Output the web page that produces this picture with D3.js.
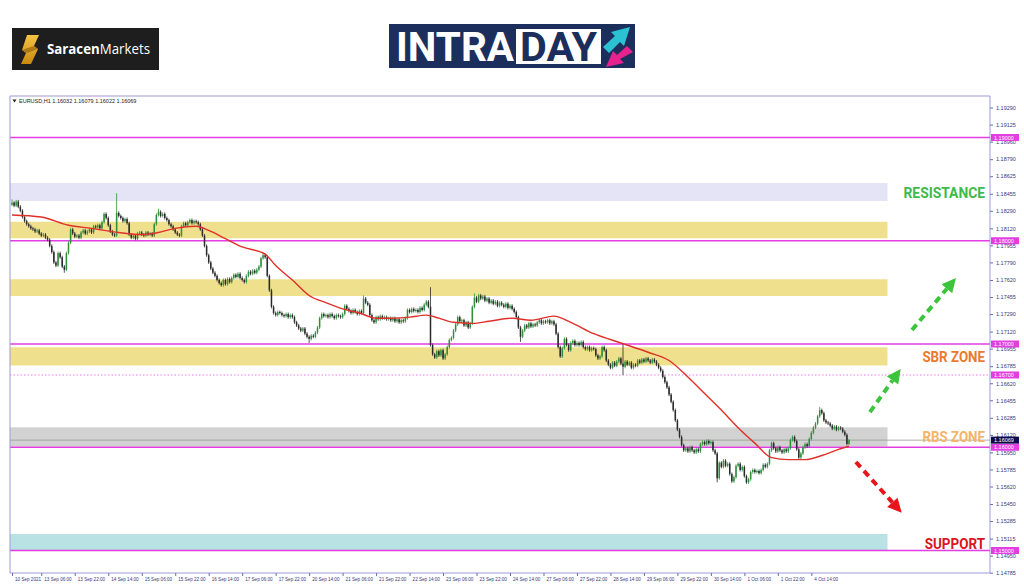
<!DOCTYPE html>
<html>
<head>
<meta charset="utf-8">
<script src="https://cdn.jsdelivr.net/npm/d3@7"></script>
<style>
  body { margin: 0; background: #fff; }
  svg { display: block; }
</style>
</head>
<body>
<div id="chart"></div>
<script>
// EURUSD H1 closes, in pips above 1.1000 (one per bar)
const firstOpen = 835;
const closes = [
  837, 834, 838, 833, 829, 823, 819, 816, 814, 812,
  811, 809, 810, 807, 805, 806, 803, 801, 795, 789,
  779, 776, 788, 784, 775, 772, 788, 798, 811, 807,
  804, 805, 803, 808, 810, 807, 809, 811, 808, 814,
  813, 815, 812, 818, 826, 822, 815, 809, 806, 805,
  827, 824, 822, 819, 821, 817, 806, 803, 805, 802,
  807, 808, 806, 805, 808, 806, 807, 805, 816, 825,
  828, 824, 826, 822, 820, 816, 814, 811, 808, 806,
  805, 814, 817, 815, 818, 820, 817, 819, 818, 816,
  811, 805, 795, 786, 779, 773, 769, 766, 762, 759,
  757, 762, 758, 763, 760, 764, 767, 765, 768, 764,
  762, 760, 766, 770, 768, 771, 769, 772, 775, 783,
  786, 784, 766, 752, 736, 730, 728, 731, 730, 728,
  727, 729, 726, 728, 726, 721, 718, 715, 713, 715,
  710, 707, 705, 708, 707, 711, 716, 725, 729, 727,
  728, 726, 729, 727, 725, 728, 727, 726, 729, 737,
  734, 732, 730, 733, 731, 729, 732, 730, 744, 740,
  738, 728, 723, 721, 726, 724, 727, 725, 726, 724,
  725, 723, 725, 722, 724, 721, 723, 722, 725, 733,
  731, 734, 732, 733, 731, 735, 733, 738, 741, 736,
  699, 690, 687, 693, 689, 694, 686, 690, 697, 704,
  706, 713, 719, 726, 722, 723, 718, 721, 716, 720,
  736, 745, 741, 747, 744, 746, 742, 744, 740, 742,
  739, 741, 737, 740, 738, 736, 739, 735, 737, 734,
  731, 726, 716, 707, 713, 718, 716, 720, 717, 719,
  718, 721, 723, 720, 722, 721, 723, 720, 722, 719,
  710, 697, 688, 696, 705, 699, 694, 701, 703, 699,
  701, 699, 702, 697, 695, 697, 694, 696, 695, 689,
  686, 688, 697, 694, 684, 680, 677, 682, 679, 683,
  686, 681, 678, 683, 680, 682, 677, 680, 679, 684,
  682, 685, 683, 686, 684, 682, 685, 683, 680, 677,
  674, 668, 663, 658, 651, 644, 636, 626, 617, 610,
  602, 597, 599, 596, 600, 597, 595, 598, 596, 603,
  605, 603, 606, 604, 605, 597, 594, 570, 585, 581,
  587, 582, 584, 574, 567, 571, 582, 584, 578, 581,
  572, 566, 569, 576, 578, 576, 577, 575, 578, 583,
  581, 584, 597, 604, 599, 596, 600, 597, 595, 598,
  596, 599, 607, 610, 606, 598, 590, 594, 600, 603,
  601, 608, 614, 619, 623, 630, 636, 633, 626, 624,
  623, 621, 618, 620, 617, 619, 618, 615, 612, 603.2,
  606.9
];

// bars with long wicks: [bar, high, low] in pips above 1.1000
const spikes = [
  [0, 840, null], [25, null, 769], [50, 846, null], [70, 831, null],
  [142, null, 701], [168, 747, null], [200, 755, null], [221, 749, null],
  [243, null, 702], [292, 701, 670], [337, null, 566], [386, 639, null],
  [400, 607.9, 602.2]
];

// moving average, read at a few bars
const maBars   = [0, 14, 27, 38, 51, 62, 70, 78, 88, 94, 102, 110, 121, 126, 134, 142, 150, 158, 166, 174, 182, 190, 198, 204, 211, 220, 228, 239, 248, 259, 267, 278, 291, 304, 314, 323, 331, 339, 347, 355, 363, 371, 379, 387, 395, 400];
const maValues = [825, 823, 815, 812, 808, 806, 808, 812, 814, 810, 802, 794, 787, 776, 762, 747, 740, 734, 730, 725, 725, 726, 728, 725, 721, 720, 722, 725, 723, 727, 721, 710, 701, 692, 684, 668, 652, 636, 619, 604, 590, 588, 588, 592, 598, 601];

const yTicks = [1.19290, 1.19125, 1.18960, 1.18790, 1.18625, 1.18455, 1.18290, 1.18120, 1.17955, 1.17790,
  1.17620, 1.17455, 1.17290, 1.17120, 1.16955, 1.16785, 1.16620, 1.16455, 1.16285, 1.16120,
  1.15950, 1.15785, 1.15620, 1.15450, 1.15285, 1.15115, 1.14950, 1.14785];

const xTickBars = [0, 14, 30, 46, 62, 78, 94, 110, 126, 142, 158, 174, 190, 206, 222, 238, 254, 270, 286, 302, 318, 334, 350, 366, 382];
const xTickLabels = ["10 Sep 2021", "13 Sep 06:00", "13 Sep 22:00", "14 Sep 14:00", "15 Sep 06:00", "15 Sep 22:00",
  "16 Sep 14:00", "17 Sep 06:00", "17 Sep 22:00", "20 Sep 14:00", "21 Sep 06:00", "21 Sep 22:00", "22 Sep 14:00",
  "23 Sep 06:00", "23 Sep 22:00", "24 Sep 14:00", "27 Sep 06:00", "27 Sep 22:00", "28 Sep 14:00", "29 Sep 06:00",
  "29 Sep 22:00", "30 Sep 14:00", "1 Oct 06:00", "1 Oct 22:00", "4 Oct 14:00"];

// zones [low, high]
const zoneBands = [[1.18385, 1.18559], [1.18024, 1.18184], [1.17465, 1.17627], [1.16792, 1.16968], [1.16007, 1.16193], [1.15005, 1.15160]];
const zoneColors = ["#e4e4f6", "#efe08e", "#efe08e", "#efe08e", "#d2d2d2", "#b9e2e4"];
const zoneEndBar = 418.4;

const levels = [1.19, 1.18, 1.17, 1.16, 1.15];
const dottedLevel = 1.167;
const lastPrice = 1.16069;
const header = "EURUSD,H1  1.16032 1.16079 1.16022 1.16069";

const zoneLabels = ["RESISTANCE", "SBR ZONE", "RBS ZONE", "SUPPORT"];
const zoneLabelColors = ["#3dbb4a", "#eb7a30", "#f5b36b", "#d8151f"];
const zoneLabelPrices = [1.1847, 1.1688, 1.1610, 1.1507];

// arrows [bar1, price1, bar2, price2]
const arrows = [[430.1, 1.17136, 451.1, 1.17639], [410.0, 1.16341, 424.7, 1.16758], [403.3, 1.15857, 425.2, 1.15366]];
const arrowColors = ["#3cc43c", "#3cc43c", "#e8141c"];

const W = 1024, H = 587;
const plotL = 10, plotR = 990, plotT = 96, plotB = 573;

const svg = d3.select("#chart").append("svg").attr("width", W).attr("height", H);

const x = d3.scaleLinear().domain([0, 400]).range([12, 849]);
const y = d3.scaleLinear().domain([1.15, 1.19]).range([550.5, 137.5]);
const pip = v => 1.1 + v / 10000;

// ---- logos ----
const logo1 = svg.append("g");
logo1.append("rect").attr("x", 12).attr("y", 28).attr("width", 147).attr("height", 42).attr("fill", "#1e1e1e");
const gold = svg.append("defs").append("linearGradient").attr("id", "gold").attr("x1", 0).attr("y1", 0).attr("x2", 0).attr("y2", 1);
gold.append("stop").attr("offset", "0%").attr("stop-color", "#f6c343");
gold.append("stop").attr("offset", "100%").attr("stop-color", "#c98910");
logo1.append("path").attr("d", "M27,35 L39,35 L34,46 L38,49 L31,64 L21,64 L26,53 L22,50 Z").attr("fill", "url(#gold)");
logo1.append("path").attr("d", "M34,46 L38,49 L27,53 L22,50 Z").attr("fill", "#8a5a08").attr("opacity", 0.6);
const t1 = logo1.append("text").attr("x", 47).attr("y", 54).attr("font-family", "Open Sans, sans-serif")
  .attr("font-size", 14).attr("fill", "#fff").attr("textLength", 103).attr("lengthAdjust", "spacingAndGlyphs");
t1.append("tspan").attr("font-weight", 700).text("Saracen");
t1.append("tspan").attr("font-weight", 400).text("Markets");

const logo2 = svg.append("g");
logo2.append("rect").attr("x", 389).attr("y", 24).attr("width", 246).attr("height", 44).attr("fill", "#1c2e5c");
logo2.append("text").attr("x", 396).attr("y", 61).attr("font-family", "Roboto, sans-serif").attr("font-weight", 700)
  .attr("font-size", 40).attr("fill", "#fff").attr("textLength", 118).attr("lengthAdjust", "spacingAndGlyphs").text("INTRA");
logo2.append("rect").attr("x", 516).attr("y", 29).attr("width", 85).attr("height", 35).attr("fill", "#fff");
logo2.append("text").attr("x", 520).attr("y", 61).attr("font-family", "Roboto, sans-serif").attr("font-weight", 700)
  .attr("font-size", 40).attr("fill", "#1c2e5c").attr("textLength", 77).attr("lengthAdjust", "spacingAndGlyphs").text("DAY");
logo2.append("path").attr("d", "M603,47 L609,53 L620,42 L624,46 L630,27 L611,32 L615,36 Z").attr("fill", "#2bc3d3");
logo2.append("path").attr("d", "M633,52 L627,46 L617,55 L613,51 L606,67 L624,63 L620,59 Z").attr("fill", "#e5228d");

// ---- chart ----
svg.append("defs").append("clipPath").attr("id", "plot")
  .append("rect").attr("x", plotL).attr("y", plotT).attr("width", plotR - plotL).attr("height", plotB - plotT);
const gPlot = svg.append("g").attr("clip-path", "url(#plot)");

// zones
gPlot.selectAll("rect.zone").data(zoneBands).join("rect").attr("class", "zone")
  .attr("x", plotL).attr("width", x(zoneEndBar) - plotL)
  .attr("y", d => y(d[1])).attr("height", d => y(d[0]) - y(d[1]))
  .attr("fill", (d, i) => zoneColors[i]);

// bid line
gPlot.append("line").attr("x1", plotL).attr("x2", plotR).attr("y1", y(lastPrice)).attr("y2", y(lastPrice))
  .attr("stroke", "#8fa08f").attr("stroke-width", 0.8);

// magenta levels
gPlot.selectAll("line.level").data(levels).join("line").attr("class", "level")
  .attr("x1", plotL).attr("x2", plotR).attr("y1", d => y(d)).attr("y2", d => y(d))
  .attr("stroke", "#e23ee2").attr("stroke-width", 1.5);
gPlot.append("line").attr("x1", plotL).attr("x2", plotR).attr("y1", y(dottedLevel)).attr("y2", y(dottedLevel))
  .attr("stroke", "#e77de7").attr("stroke-width", 1).attr("stroke-dasharray", "1.5 2");

// candles
const candles = closes.map((c, i) => {
  const o = i === 0 ? firstOpen : closes[i - 1];
  let h = Math.max(o, c) + 1.5, l = Math.min(o, c) - 1.5;
  const s = spikes.find(d => d[0] === i);
  if (s) { if (s[1] != null) h = s[1]; if (s[2] != null) l = s[2]; }
  return { i, o: pip(o), c: pip(c), h: pip(h), l: pip(l), up: c >= o };
});
const up = "#2f8f3c", down = "#2a2a2a";
const gCandles = gPlot.append("g");
gCandles.selectAll("line").data(candles).join("line")
  .attr("x1", d => x(d.i)).attr("x2", d => x(d.i)).attr("y1", d => y(d.h)).attr("y2", d => y(d.l))
  .attr("stroke", d => d.up ? up : down).attr("stroke-width", 0.8);
gCandles.selectAll("rect").data(candles).join("rect")
  .attr("x", d => x(d.i) - 0.75).attr("width", 1.5)
  .attr("y", d => y(Math.max(d.o, d.c))).attr("height", d => Math.max(0.6, Math.abs(y(d.o) - y(d.c))))
  .attr("fill", d => d.up ? up : down);

// moving average
const ma = maBars.map((b, k) => [b, pip(maValues[k])]);
gPlot.append("path").datum(ma)
  .attr("d", d3.line().x(d => x(d[0])).y(d => y(d[1])).curve(d3.curveMonotoneX))
  .attr("fill", "none").attr("stroke", "#e0302a").attr("stroke-width", 1.4);

// zone labels
svg.selectAll("text.zl").data(zoneLabels).join("text").attr("class", "zl")
  .attr("x", 985).attr("y", (d, i) => y(zoneLabelPrices[i]) + 5.5)
  .attr("text-anchor", "end").attr("font-family", "Roboto, sans-serif").attr("font-weight", 700)
  .attr("font-size", 15.5).attr("fill", (d, i) => zoneLabelColors[i])
  .attr("textLength", (d, i) => [81.5, 62.6, 62.6, 60.3][i]).attr("lengthAdjust", "spacingAndGlyphs")
  .text(d => d);

// arrows
const gArrows = svg.append("g");
arrows.forEach((a, k) => {
  const x1 = x(a[0]), y1 = y(a[1]), x2 = x(a[2]), y2 = y(a[3]);
  const ang = Math.atan2(y2 - y1, x2 - x1);
  const hl = 14, hw = 7;
  const bx = x2 - hl * Math.cos(ang), by = y2 - hl * Math.sin(ang);
  gArrows.append("line").attr("x1", x1).attr("y1", y1).attr("x2", bx).attr("y2", by)
    .attr("stroke", arrowColors[k]).attr("stroke-width", 4).attr("stroke-dasharray", "7 5");
  gArrows.append("path")
    .attr("d", `M${x2},${y2}L${bx + hw * Math.sin(ang)},${by - hw * Math.cos(ang)}L${bx - hw * Math.sin(ang)},${by + hw * Math.cos(ang)}Z`)
    .attr("fill", arrowColors[k]);
});

// frame
const frameColor = "#9c9cd8";
svg.append("path").attr("d", `M${plotR},${plotT}H${plotL}V${plotB}H${plotR}V${plotT}`)
  .attr("fill", "none").attr("stroke", frameColor).attr("stroke-width", 1);

// header
svg.append("path").attr("d", "M12.5,99.5h4l-2,3z").attr("fill", "#222");
svg.append("text").attr("x", 19).attr("y", 103).attr("font-family", "Liberation Sans, sans-serif")
  .attr("font-size", 5.5).attr("fill", "#222").text(header);

// y axis
const gy = svg.append("g").attr("transform", `translate(${plotR},0)`)
  .call(d3.axisRight(y).tickValues(yTicks).tickFormat(d3.format(".5f")).tickSize(3).tickSizeOuter(0));
gy.select(".domain").remove();
gy.selectAll("line").attr("stroke", "#6c6cae");
gy.selectAll("text").attr("x", 6).attr("font-family", "Liberation Sans, sans-serif").attr("font-size", 5.5).attr("fill", "#3a3a78");

// price boxes
const boxLevels = levels.concat([dottedLevel]);
svg.selectAll("g.pbox").data(boxLevels).join("g").attr("class", "pbox")
  .attr("transform", d => `translate(${plotR + 1},${y(d)})`)
  .call(g => {
    g.append("rect").attr("x", 0).attr("y", -3.5).attr("width", 28).attr("height", 7).attr("fill", "#e23ee2");
    g.append("text").attr("x", 3).attr("y", 2).attr("font-family", "Liberation Sans, sans-serif")
      .attr("font-size", 5.5).attr("fill", "#fff").text(d => d.toFixed(5));
  });
const lp = svg.append("g").attr("transform", `translate(${plotR + 1},${y(lastPrice)})`);
lp.append("rect").attr("x", 0).attr("y", -3.5).attr("width", 28).attr("height", 7).attr("fill", "#0c0c4c");
lp.append("text").attr("x", 3).attr("y", 2).attr("font-family", "Liberation Sans, sans-serif")
  .attr("font-size", 5.5).attr("fill", "#fff").text(lastPrice.toFixed(5));

// x axis
const gx = svg.append("g").attr("transform", `translate(0,${plotB})`)
  .call(d3.axisBottom(x).tickValues(xTickBars).tickFormat((d, k) => xTickLabels[k]).tickSize(3).tickSizeOuter(0));
gx.select(".domain").remove();
gx.selectAll("line").attr("stroke", "#6c6cae");
gx.selectAll("text").attr("text-anchor", "start").attr("x", 2.5).attr("y", 5)
  .attr("font-family", "Liberation Sans, sans-serif").attr("font-size", 4.6).attr("fill", "#3a3a78");
</script>
</body>
</html>
